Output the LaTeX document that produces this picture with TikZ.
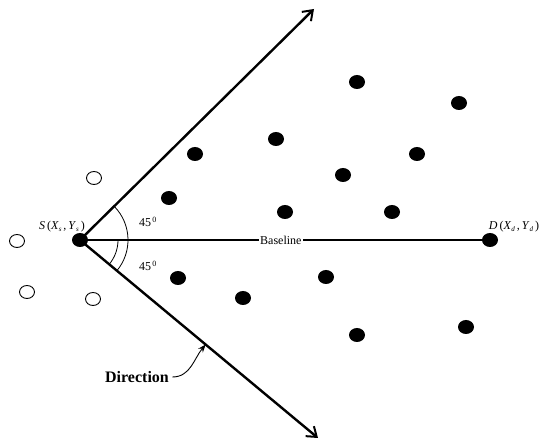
\documentclass[tikz,border=0pt]{standalone}
\usepackage{fontspec}
\setmainfont{Liberation Serif}
\usetikzlibrary{arrows.meta,calc,shapes.geometric}

\newcommand{\sub}[1]{\raisebox{-0.35ex}{\fontsize{7}{8}\selectfont\itshape #1}}

\tikzset{
  sensor/.style={ellipse,fill=black,minimum width=16pt,minimum height=14pt,inner sep=0pt},
  idle/.style={ellipse,draw,line width=0.9pt,minimum width=15pt,minimum height=13pt,inner sep=0pt},
  ray/.style={line width=2.4pt,-{Straight Barb[length=9pt,width=13pt,line width=2pt]}},
}

\begin{document}
\begin{tikzpicture}[x=1pt,y=1pt,font=\fontsize{12}{14}\selectfont]
    \useasboundingbox (0,0) rectangle (542,445);

    % source and destination
    \node[sensor] (S) at (80,205) {};
    \node[sensor] (D) at (490,205) {};
    \coordinate (up) at (314,436);
    \coordinate (down) at (318,7);

    \draw[line width=1.2pt] (S.center) -- (D.center)
        node[pos=0.49,fill=white,inner sep=1pt] (base) {Baseline};
    \draw[ray] (S.center) -- (up);
    \draw[ray] (S.center) -- (down);

    % angles
    \draw[line width=0.8pt] ($(S)+(44:48)$) arc (44:-40:48);
    \draw[line width=0.8pt] ($(S)+(0:38)$) arc (0:-40:38);
    \node (aup) at (148,223) {45\textsuperscript{\,0}};
    \node (adown) at (148,179) {45\textsuperscript{\,0}};

    \node (Slab) at (62,218) {\textit{S}\,(\textit{X}\sub{s}\,,\,\textit{Y}\sub{s}\,)};
    \node (Dlab) at (514,218) {\textit{D}\,(\textit{X}\sub{d}\,,\,\textit{Y}\sub{d}\,)};

    % other nodes
    \foreach \px/\py in {357/363,459/342,195/291,276/306,417/291,343/270,
        169/247,285/233,392/233,178/167,243/147,326/168,357/110,466/118}
        \node[sensor] at (\px,\py) {};
    \foreach \px/\py in {94/267,17/204,27/153,93/146}
        \node[idle] at (\px,\py) {};

    % direction
    \coordinate (hit) at ($(S)!0.528!(down)$);
    \node[font=\fontsize{16}{18}\selectfont\bfseries] (dir) at (137,68) {Direction};
    \draw[line width=0.9pt,-{Stealth[length=8pt,width=6pt]}] (dir.east) to[out=0,in=230] (hit);
\end{tikzpicture}
\end{document}
